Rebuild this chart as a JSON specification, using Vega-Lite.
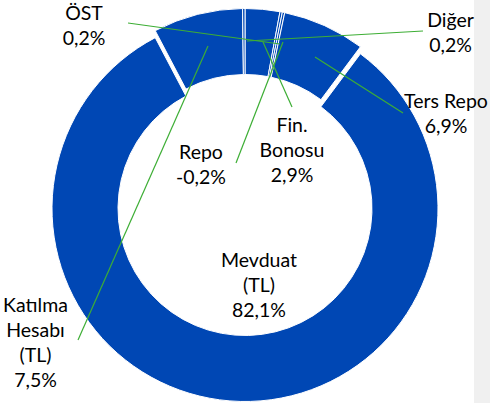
{
  "$schema": "https://vega.github.io/schema/vega-lite/v6.json",
  "width": 490,
  "height": 403,
  "autosize": {"type": "none"},
  "padding": {"left": 0, "top": 0, "right": 2, "bottom": 4},
  "background": "white",
  "view": {
    "stroke": null,
    "fill": {
      "gradient": "linear",
      "x1": 0, "y1": 0, "x2": 1, "y2": 0,
      "stops": [
        {"offset": 0, "color": "#ffffff"},
        {"offset": 0.9672, "color": "#ffffff"},
        {"offset": 0.9674, "color": "#f0f0f0"},
        {"offset": 1, "color": "#f0f0f0"}
      ]
    }
  },
  "data": {
    "values": [
      {"kategori": "Fin. Bonosu", "deger": 2.9, "dilim": 2.9, "sira": 1, "etiket": ["Fin.", "Bonosu", "2,9%"]},
      {"kategori": "Repo", "deger": -0.2, "dilim": 0.2, "sira": 2, "etiket": ["Repo", "-0,2%"]},
      {"kategori": "ÖST", "deger": 0.2, "dilim": 0.2, "sira": 3, "etiket": ["ÖST", "0,2%"]},
      {"kategori": "Ters Repo", "deger": 6.9, "dilim": 6.9, "sira": 4, "etiket": ["Ters Repo", "6,9%"]},
      {"kategori": "Mevduat (TL)", "deger": 82.1, "dilim": 82.1, "sira": 5, "etiket": ["Mevduat", "(TL)", "82,1%"]},
      {"kategori": "Katılma Hesabı (TL)", "deger": 7.5, "dilim": 7.5, "sira": 6, "etiket": ["Katılma", "Hesabı", "(TL)", "7,5%"]},
      {"kategori": "Diğer", "deger": 0.2, "dilim": 0.2, "sira": 7, "etiket": ["Diğer", "0,2%"]}
    ]
  },
  "transform": [
    {"stack": "dilim", "groupby": [], "sort": [{"field": "sira", "order": "ascending"}], "as": ["bas1", "son1"]},
    {"stack": "dilim", "groupby": [], "sort": [{"field": "sira", "order": "descending"}], "as": ["bas2", "son2"]}
  ],
  "layer": [
    {
      "transform": [{"filter": {"field": "kategori", "equal": "Mevduat (TL)"}}],
      "mark": {"type": "arc", "outerRadius": 193, "innerRadius": 127, "color": "#0047B4", "stroke": "#ffffff", "strokeWidth": 1, "yOffset": 7},
      "encoding": {
        "theta": {"field": "bas1", "type": "quantitative", "scale": {"domain": [0, 100]}},
        "theta2": {"field": "son1"}
      }
    },
    {
      "transform": [{"filter": {"not": {"field": "kategori", "equal": "Mevduat (TL)"}}}],
      "mark": {"type": "arc", "outerRadius": 193, "innerRadius": 127, "color": "#0047B4", "stroke": "#ffffff", "strokeWidth": 1},
      "encoding": {
        "theta": {"field": "bas1", "type": "quantitative", "scale": {"domain": [0, 100]}},
        "theta2": {"field": "son1"}
      }
    },
    {
      "transform": [{"filter": {"not": {"field": "kategori", "equal": "Mevduat (TL)"}}}],
      "mark": {"type": "rule", "color": "#3DAE35", "strokeWidth": 1.2},
      "encoding": {
        "x": {"field": "son1", "type": "quantitative", "axis": null,
              "scale": {"nice": false, "zero": false,
                        "domain": [0, 0.2, 2.9, 3.1, 3.3, 10.2, 89.8, 96.7, 96.9, 97.1, 99.8, 100],
                        "range": [247, 208, 292, 236, 128, 403, 315, 280, 283, 263, 78, 423]}},
        "x2": {"field": "bas2"},
        "y": {"field": "son1", "type": "quantitative", "axis": null,
              "scale": {"nice": false, "zero": false,
                        "domain": [0, 0.2, 2.9, 3.1, 3.3, 10.2, 89.8, 96.7, 96.9, 97.1, 99.8, 100],
                        "range": [41, 46, 107, 163, 23, 113, 57, 44, 42, 42, 340, 31]}},
        "y2": {"field": "bas2"}
      }
    },
    {
      "mark": {"type": "text", "font": "Lato", "fontSize": 19.5, "color": "#000000", "align": "center", "baseline": "middle", "lineHeight": 25},
      "encoding": {
        "x": {"field": "sira", "type": "quantitative", "axis": null,
              "scale": {"nice": false, "zero": false, "domain": [1, 2, 3, 4, 5, 6, 7],
                        "range": [292, 201, 84, 446, 259, 35.5, 450.5]}},
        "y": {"field": "sira", "type": "quantitative", "axis": null,
              "scale": {"nice": false, "zero": false, "domain": [1, 2, 3, 4, 5, 6, 7],
                        "range": [125.5, 153, 13.5, 101.5, 261, 306, 20.5]}},
        "text": {"field": "etiket", "type": "nominal"}
      }
    }
  ],
  "resolve": {"scale": {"x": "independent", "y": "independent"}}
}
